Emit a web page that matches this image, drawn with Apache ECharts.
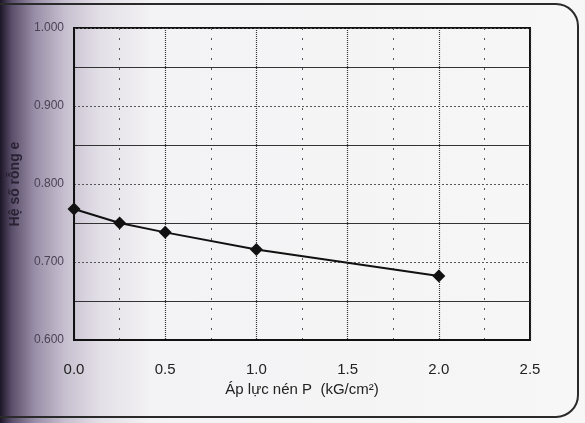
<!DOCTYPE html>
<html><head><meta charset="utf-8">
<script src="https://cdn.jsdelivr.net/npm/echarts@6/dist/echarts.min.js"></script>
<style>html,body{margin:0;padding:0;background:#f4f3f5}#c{width:585px;height:423px}</style>
</head><body><div id="c"></div>
<script>
const pressure = [0, 0.25, 0.5, 1.0, 2.0];
const voidRatio = [0.768, 0.750, 0.738, 0.716, 0.682];
const xTicks = [0, 0.5, 1.0, 1.5, 2.0, 2.5];
const yTicks = [0.6, 0.7, 0.8, 0.9, 1.0];
const xTitle = 'Áp lực nén P  (kG/cm²)';
const yTitle = 'Hệ số rỗng e';

const chart = echarts.init(document.getElementById('c'));
chart.setOption({
  animation: false,
  backgroundColor: {
    type: 'linear', x: 0, y: 0, x2: 1, y2: 0,
    colorStops: [
      {offset: 0, color: '#1c1526'},
      {offset: 0.02, color: '#5a4e6a'},
      {offset: 0.06, color: '#9a8fa8'},
      {offset: 0.11, color: '#c6bfcf'},
      {offset: 0.17, color: '#e3dfe7'},
      {offset: 0.26, color: '#f3f2f4'},
      {offset: 1, color: '#f7f7f7'}
    ]
  },
  graphic: [{
    type: 'rect', z: 100, silent: true,
    shape: {x: -20, y: 4, width: 598, height: 413, r: [0, 22, 22, 0]},
    style: {fill: 'none', stroke: '#2a2a2a', lineWidth: 2}
  }],
  grid: {left: 73, right: 55, top: 28, bottom: 83, show: true, borderColor: '#111', borderWidth: 2, backgroundColor: 'transparent'},
  xAxis: {
    type: 'value', min: 0, max: 2.5, interval: 0.5,
    name: xTitle, nameLocation: 'middle', nameGap: 42,
    nameTextStyle: {fontFamily: 'Liberation Sans', fontSize: 15, color: '#222'},
    axisLine: {show: true, lineStyle: {color: '#111', width: 2}},
    axisTick: {show: false},
    axisLabel: {fontFamily: 'Liberation Sans', fontSize: 15, color: '#222', margin: 22,
      formatter: v => v.toFixed(1)},
    splitLine: {show: true, lineStyle: {color: '#333', type: [1, 1], width: 1.2}},
    minorTick: {show: false, splitNumber: 2},
    minorSplitLine: {show: true, lineStyle: {color: '#555', type: [2, 8], width: 1}}
  },
  yAxis: {
    type: 'value', min: 0.6, max: 1.0, interval: 0.1,
    name: yTitle, nameLocation: 'middle', nameGap: 52, nameRotate: 90,
    nameTextStyle: {fontFamily: 'Liberation Sans', fontSize: 14, fontWeight: 'bold', color: '#2a2333'},
    axisLine: {show: true, lineStyle: {color: '#111', width: 2}},
    axisTick: {show: false},
    axisLabel: {fontFamily: 'Liberation Sans', fontSize: 12, color: '#4a4256', margin: 10,
      formatter: v => v.toFixed(3)},
    splitLine: {show: true, lineStyle: {color: '#555', type: [2, 2], width: 1}},
    minorTick: {show: false, splitNumber: 2},
    minorSplitLine: {show: true, lineStyle: {color: '#333', width: 1.2}}
  },
  series: [{
    type: 'line',
    data: pressure.map((p, i) => [p, voidRatio[i]]),
    symbol: 'diamond', symbolSize: 13,
    itemStyle: {color: '#111'},
    lineStyle: {color: '#111', width: 2}
  }]
});
</script></body></html>
